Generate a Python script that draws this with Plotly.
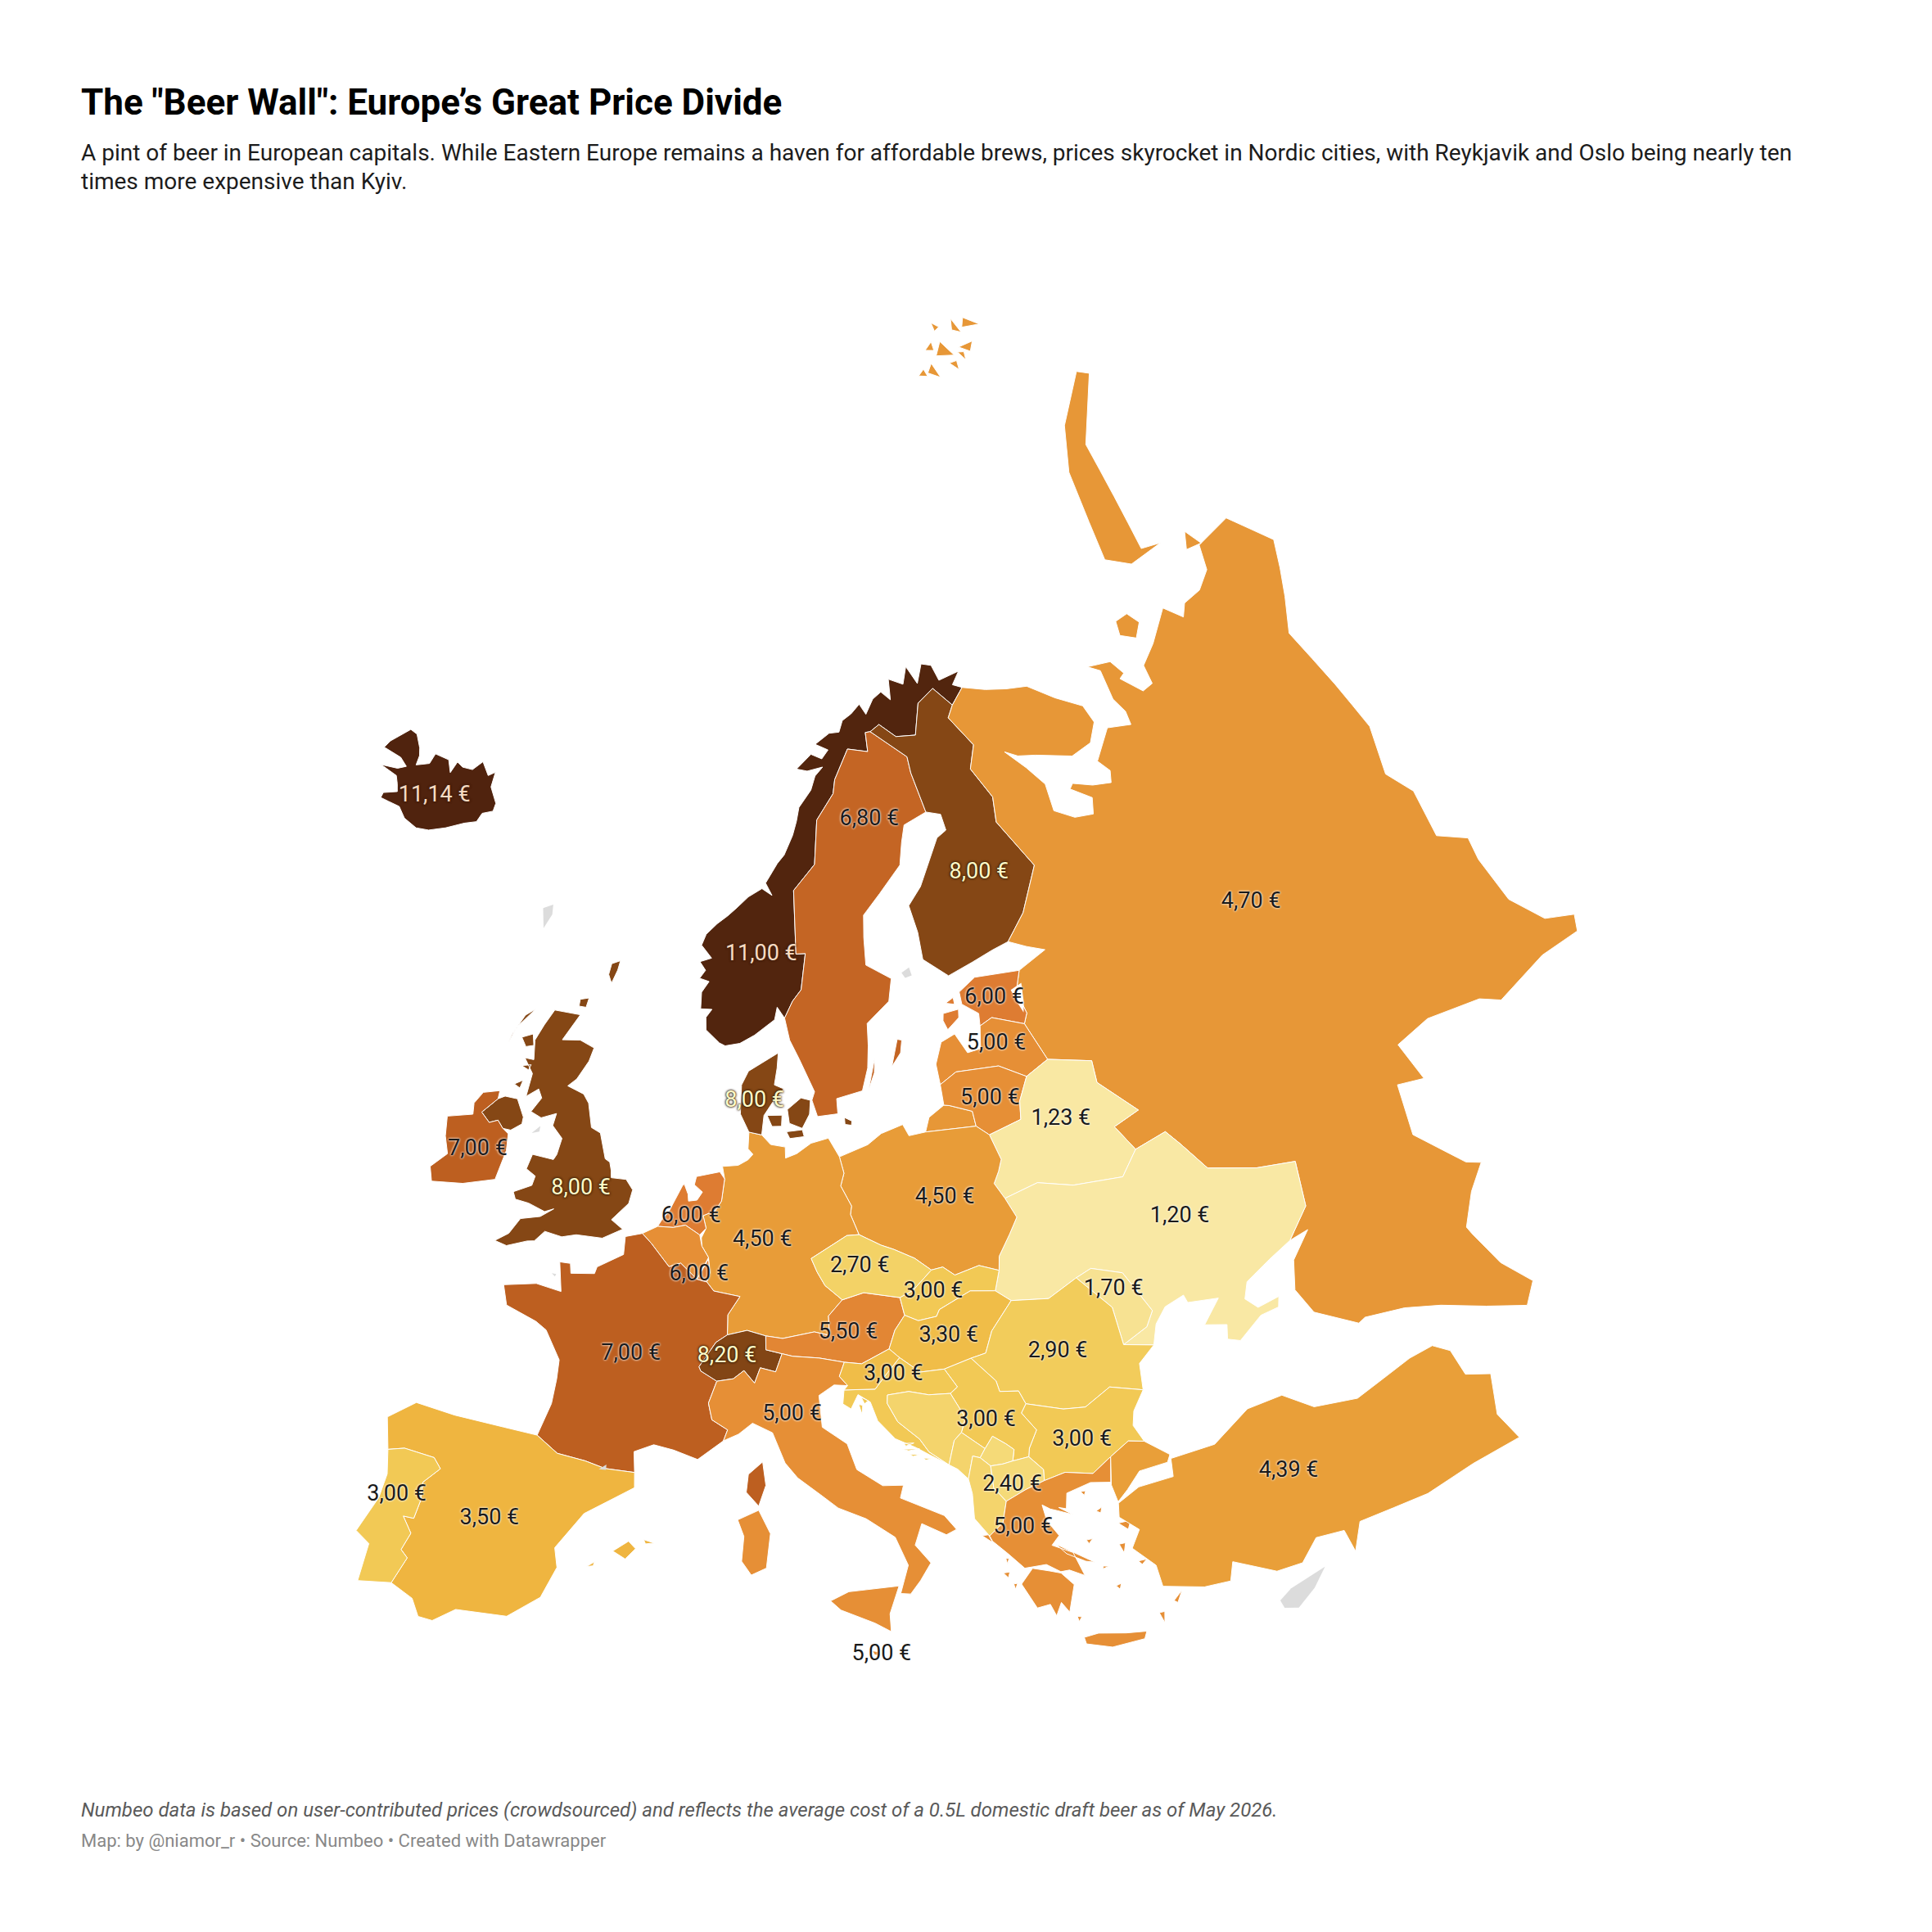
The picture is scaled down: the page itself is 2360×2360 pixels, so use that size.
import plotly.graph_objects as go
from plotly.colors import sample_colorscale

# Prices in EUR, one value per country
countries = ["Iceland", "Norway", "Sweden", "Finland", "Russia", "Estonia", "Latvia", "Lithuania",
             "Belarus", "Ukraine", "Moldova", "Poland", "Germany", "Denmark", "United Kingdom", "Ireland",
             "Netherlands", "Belgium", "Luxembourg", "France", "Switzerland", "Austria", "Italy", "Malta",
             "Czechia", "Slovakia", "Hungary", "Romania", "Bulgaria", "Serbia", "Croatia", "Slovenia",
             "Bosnia", "Montenegro", "Kosovo", "Albania", "North Macedonia", "Greece", "Turkey",
             "Spain", "Portugal"]
prices = [11.14, 11.00, 6.80, 8.00, 4.70, 6.00, 5.00, 5.00,
          1.23, 1.20, 1.70, 4.50, 4.50, 8.00, 8.00, 7.00,
          6.00, 5.00, 6.00, 7.00, 8.20, 5.50, 5.00, 5.00,
          2.70, 3.00, 3.30, 2.90, 3.00, 3.00, 3.00, 3.30,
          2.60, 2.60, 2.40, 2.60, 2.40, 5.00, 4.39,
          3.50, 3.00]

# Price labels and where they sit on the map
label_text = ["11,14 €", "11,00 €", "6,80 €", "8,00 €", "4,70 €", "6,00 €", "5,00 €", "5,00 €",
              "1,23 €", "1,20 €", "1,70 €", "4,50 €", "4,50 €", "8,00 €", "8,00 €", "7,00 €",
              "6,00 €", "6,00 €", "7,00 €", "8,20 €", "5,50 €", "5,00 €", "5,00 €",
              "2,70 €", "3,00 €", "3,30 €", "2,90 €", "3,00 €", "3,00 €", "3,00 €",
              "2,40 €", "5,00 €", "4,39 €", "3,50 €", "3,00 €"]
label_lon = [-18.7, 9.5, 19.1, 27.1, 45.0, 25.8, 25.2, 24.0,
             28.0, 33.0, 28.4, 20.2, 9.45, 9.0, -1.3, -7.8,
             5.3, 5.9, 2.5, 7.55, 14.0, 10.9, 14.6,
             14.9, 18.8, 19.3, 24.8, 20.6, 25.1, 16.2,
             21.4, 21.6, 34.3, -3.5, -8.0]
label_lat = [64.7, 61.3, 65.9, 63.2, 58.5, 58.7, 57.1, 55.2,
             53.9, 49.3, 47.5, 52.0, 51.0, 56.0, 52.4, 53.1,
             51.8, 49.7, 46.7, 46.8, 47.55, 44.7, 35.85,
             49.9, 48.7, 47.05, 45.8, 43.85, 42.5, 45.9,
             41.4, 39.8, 39.4, 40.15, 40.35]
cream_labels = ["8,00 €", "8,20 €"]
peach_labels = ["11,14 €", "11,00 €"]

# Colour ramp of the map
ramp_prices = [1.20, 2.40, 3.00, 3.50, 4.50, 5.00, 6.00, 7.00, 8.00, 11.14]
ramp_colors = ["#f9e8a4", "#f5da78", "#f2c955", "#efb540", "#e89c38", "#e68f36",
               "#de7c32", "#bd5f20", "#854715", "#50230e"]

# Outlines as lon/lat rings
iceland = [[(-22.7, 63.85), (-22.0, 63.85), (-21.0, 63.85), (-20.2, 63.55), (-19.0, 63.4), (-18.0, 63.5), (-16.8, 63.8),
            (-15.5, 64.2), (-14.6, 64.4), (-14.4, 64.75), (-13.6, 64.95), (-13.6, 65.25), (-14.5, 65.75), (-14.6, 66.3),
            (-15.1, 66.1), (-16.0, 66.5), (-16.6, 66.1), (-17.5, 66.05), (-18.1, 66.15), (-18.3, 65.7), (-18.9, 66.1),
            (-20.2, 66.1), (-20.3, 65.7), (-20.9, 65.55), (-21.3, 65.45), (-21.4, 65.8), (-21.7, 66.05), (-22.5, 66.45),
            (-23.2, 66.5), (-24.3, 65.8), (-24.5, 65.5), (-22.8, 65.45), (-22.0, 65.25), (-22.6, 65.05), (-24.0, 64.9),
            (-22.4, 64.8), (-22.0, 64.55), (-21.7, 64.3), (-22.7, 64.05)]]
norway = [[(11.1, 59.0), (10.6, 59.4), (10.4, 58.95), (9.0, 58.4), (8.0, 58.1), (7.0, 58.0), (6.6, 58.1), (5.65, 58.55),
           (5.6, 59.0), (6.0, 59.3), (5.2, 59.3), (5.2, 59.9), (5.7, 60.3), (5.0, 60.4), (5.4, 60.7), (4.95, 61.0),
           (5.8, 61.15), (5.0, 61.6), (5.3, 62.0), (6.1, 62.4), (6.9, 62.7), (7.6, 63.0), (8.5, 63.4), (9.6, 63.7),
           (10.4, 63.45), (9.9, 63.9), (10.9, 64.6), (11.5, 64.9), (12.3, 65.6), (12.7, 66.1), (13.0, 66.6), (14.2, 67.2),
           (14.7, 67.7), (15.5, 68.0), (14.0, 67.9), (13.0, 68.0), (14.5, 68.5), (15.5, 68.3), (16.2, 68.6), (15.0, 68.85),
           (16.5, 69.2), (17.5, 69.2), (18.0, 69.6), (19.0, 69.8), (20.0, 70.1), (20.5, 69.7), (21.5, 70.2), (22.5, 70.4),
           (23.3, 70.05), (23.6, 70.8), (25.0, 70.5), (25.8, 71.1), (26.5, 70.4), (27.5, 71.05), (28.5, 70.9), (28.8, 70.3),
           (31.1, 70.4), (30.0, 70.0), (30.85, 69.8), (29.3, 69.3), (27.9, 70.08), (26.0, 69.7), (24.9, 68.6), (23.0, 68.7),
           (21.6, 69.25), (20.6, 69.05), (20.1, 69.05), (20.0, 68.35), (18.1, 68.55), (16.5, 67.5), (16.2, 67.0), (14.5, 66.1),
           (14.0, 64.5), (12.15, 63.6), (12.1, 61.3), (12.8, 61.3), (12.35, 60.0), (11.7, 59.6)]]
sweden = [[(11.1, 59.0), (11.4, 58.2), (12.0, 57.5), (12.9, 56.3), (12.7, 56.0), (13.0, 55.4), (14.3, 55.45),
           (14.3, 56.0), (16.0, 56.2), (16.5, 57.0), (16.7, 57.8), (16.8, 58.6), (18.5, 59.3), (18.9, 60.1),
           (17.2, 60.7), (17.3, 61.7), (17.5, 62.5), (19.0, 63.2), (21.0, 64.1), (21.5, 64.9), (22.0, 65.5),
           (24.1, 65.8), (23.6, 67.3), (23.6, 67.9), (20.6, 69.05), (20.1, 69.05), (20.0, 68.35), (18.1, 68.55),
           (16.5, 67.5), (16.2, 67.0), (14.5, 66.1), (14.0, 64.5), (12.15, 63.6), (12.1, 61.3), (12.8, 61.3),
           (12.35, 60.0), (11.7, 59.6)],
          [(18.1, 56.95), (18.7, 57.9), (19.0, 57.85), (18.8, 57.4)],
          [(16.4, 56.2), (17.05, 57.35), (16.9, 56.8)]]
finland = [[(20.6, 69.05), (21.6, 69.25), (23.0, 68.7), (24.9, 68.6), (26.0, 69.7), (27.9, 70.08), (29.3, 69.3),
            (28.5, 68.9), (30.0, 67.7), (29.0, 66.9), (30.1, 65.7), (29.7, 64.8), (31.5, 62.9), (29.5, 61.4),
            (27.8, 60.55), (26.5, 60.4), (24.9, 60.15), (23.0, 59.85), (21.4, 60.6), (21.4, 61.6), (21.1, 62.6),
            (22.3, 63.2), (24.5, 64.8), (25.4, 65.0), (25.3, 65.6), (24.1, 65.8), (23.6, 67.3), (23.6, 67.9)]]
russia = [[(30.85, 69.8), (33.0, 69.45), (35.0, 69.2), (37.0, 69.0), (39.0, 68.2), (41.0, 67.5), (41.2, 66.8), (40.0, 66.2),
           (38.0, 66.05), (35.0, 66.6), (33.5, 66.8), (32.5, 67.1), (33.8, 66.3), (34.8, 65.5), (34.6, 64.5), (36.0, 64.0),
           (37.5, 63.85), (38.0, 64.4), (36.6, 65.0), (37.0, 65.15), (38.5, 64.8), (40.0, 64.6), (40.4, 65.0), (39.8, 65.5),
           (42.0, 66.4), (44.0, 66.1), (44.2, 66.6), (43.8, 67.2), (44.2, 68.3), (43.3, 68.65), (45.5, 68.4), (46.0, 67.8),
           (45.4, 67.7), (46.6, 66.9), (47.7, 66.95), (48.0, 67.65), (50.0, 68.1), (53.0, 68.9), (54.0, 68.2), (55.0, 68.55),
           (57.0, 68.55), (59.0, 68.9), (60.3, 69.7), (64.4, 69.65), (65.8, 67.9), (64.1, 67.1), (62.4, 66.3), (60.25, 65.3),
           (60.0, 62.9), (59.7, 61.0), (58.2, 59.4), (58.9, 58.3), (58.1, 56.6), (59.6, 55.8), (59.2, 55.0), (59.05, 53.25),
           (60.0, 51.9), (61.5, 51.3), (61.0, 50.8), (58.5, 51.0),
           (55.0, 50.7), (54.0, 51.2), (50.8, 51.7), (48.5, 51.5), (48.8, 50.0), (47.3, 50.3), (46.7, 48.5),
           (48.5, 46.7), (49.2, 46.4), (48.0, 45.7), (46.9, 44.7), (47.0, 44.4), (47.6, 43.0), (48.6, 41.85),
           (47.8, 41.2), (46.0, 41.9), (44.0, 42.7), (42.3, 43.2), (40.3, 43.5), (39.9, 43.4), (38.0, 44.4),
           (37.5, 45.4), (38.0, 46.4), (39.3, 47.2), (38.2, 47.1), (39.7, 48.0), (40.15, 49.6), (38.0, 49.95),
           (35.4, 50.6), (34.4, 51.75), (33.8, 52.35), (31.8, 52.1), (31.0, 53.1), (32.7, 53.4), (30.8, 54.8),
           (30.9, 55.6), (28.2, 56.1), (27.35, 57.55), (27.7, 57.9), (27.4, 58.75), (28.0, 59.45), (30.2, 59.9),
           (29.0, 60.2), (27.8, 60.55), (29.5, 61.4), (31.5, 62.9), (29.7, 64.8), (30.1, 65.7), (29.0, 66.9),
           (30.0, 67.7), (28.5, 68.9), (29.3, 69.3)],
          [(19.65, 54.45), (20.0, 54.95), (21.05, 55.3), (21.4, 55.25), (22.75, 54.9), (22.8, 54.35)],
          [(51.5, 71.5), (53.0, 72.9), (55.5, 74.7), (60.0, 76.0), (68.0, 76.9), (68.9, 76.5), (60.0, 75.0),
           (57.5, 73.0), (55.5, 71.0), (57.5, 70.7), (53.5, 70.8)],
          [(47.8, 69.0), (48.3, 69.5), (49.7, 69.5), (50.2, 69.0), (49.0, 68.6)],
          [(59.0, 69.9), (60.3, 70.4), (60.6, 69.7)],
          [(47.0, 80.7), (48.8, 80.8), (48.5, 80.5)], [(49.0, 80.6), (51.0, 80.8), (50.5, 80.2)],
          [(53.0, 80.9), (56.0, 81.2), (56.0, 80.5)], [(58.0, 80.6), (61.0, 80.4), (59.0, 80.2)],
          [(62.0, 81.0), (64.0, 81.2), (65.0, 80.6)], [(58.0, 81.9), (58.5, 81.6), (57.0, 81.6)],
          [(54.0, 80.4), (55.5, 80.3), (54.5, 80.0)], [(57.0, 80.5), (58.0, 80.35), (57.0, 80.1)],
          [(60.0, 81.2), (62.0, 81.5), (61.0, 80.9)], [(52.0, 81.3), (54.5, 81.4), (53.5, 81.1)]]
estonia = [[(24.4, 57.85), (24.5, 58.3), (23.5, 58.75), (23.5, 59.2), (24.8, 59.6), (28.0, 59.45), (27.4, 58.75),
            (27.7, 57.9), (27.35, 57.55), (25.3, 58.05)],
           [(22.0, 58.3), (22.1, 58.55), (23.2, 58.6), (23.1, 58.3), (22.2, 57.95)],
           [(22.4, 58.9), (23.0, 59.05), (23.0, 58.8)]]
latvia = [[(21.05, 56.05), (21.0, 56.8), (21.6, 57.55), (22.6, 57.75), (23.2, 57.0), (24.1, 57.05), (24.4, 57.85),
           (25.3, 58.05), (27.35, 57.55), (28.2, 56.1), (26.6, 55.7), (25.0, 56.3), (22.2, 56.4)]]
lithuania = [[(21.05, 55.3), (21.05, 56.05), (22.2, 56.4), (25.0, 56.3), (26.6, 55.7), (25.8, 54.9), (25.6, 54.25),
              (23.5, 53.95), (22.8, 54.35), (22.75, 54.9), (21.4, 55.25)]]
belarus = [[(23.6, 52.6), (23.2, 52.2), (23.65, 51.6), (25.7, 51.9), (27.7, 51.5), (30.6, 51.3), (31.8, 52.1),
            (31.0, 53.1), (32.7, 53.4), (30.8, 54.8), (30.9, 55.6), (28.2, 56.1), (26.6, 55.7), (25.8, 54.9),
            (25.6, 54.25), (23.5, 53.95), (23.9, 53.0)]]
ukraine = [[(22.15, 48.4), (22.55, 49.1), (22.7, 49.6), (23.5, 50.3), (24.1, 50.85), (23.65, 51.6), (25.7, 51.9),
            (27.7, 51.5), (30.6, 51.3), (31.8, 52.1), (33.8, 52.35), (34.4, 51.75), (35.4, 50.6), (38.0, 49.95),
            (40.15, 49.6), (39.7, 48.0), (38.2, 47.1), (36.8, 46.75), (35.3, 46.3), (34.9, 45.75), (35.4, 45.3),
            (36.6, 45.4), (36.4, 45.05), (35.4, 45.0), (34.0, 44.4), (33.4, 44.6), (33.6, 45.1), (32.5, 45.35),
            (33.6, 46.1), (32.0, 46.3), (31.9, 46.6), (30.8, 46.4), (30.1, 45.9), (29.7, 45.2), (28.2, 45.5),
            (29.6, 45.9), (30.1, 46.4), (29.1, 48.0), (27.5, 48.45), (26.6, 48.25), (24.9, 47.75), (22.9, 47.95)]]
moldova = [[(26.6, 48.25), (27.5, 48.45), (29.1, 48.0), (30.1, 46.4), (29.6, 45.9), (28.2, 45.5), (28.1, 46.9)]]
poland = [[(14.2, 53.9), (16.0, 54.25), (16.9, 54.6), (18.3, 54.83), (18.6, 54.4), (19.65, 54.45), (22.8, 54.35),
           (23.5, 53.95), (23.9, 53.0), (23.6, 52.6), (23.2, 52.2), (23.65, 51.6), (24.1, 50.85), (23.5, 50.3),
           (22.7, 49.6), (22.55, 49.1), (21.5, 49.4), (20.1, 49.2), (19.5, 49.55), (18.85, 49.5), (18.0, 50.0),
           (16.9, 50.4), (16.2, 50.6), (15.0, 51.05), (14.6, 51.8), (14.7, 52.1), (14.15, 52.85), (14.4, 53.3)]]
germany = [[(7.2, 53.2), (7.05, 53.65), (8.0, 53.7), (8.6, 53.9), (8.9, 54.1), (8.6, 54.3), (8.65, 54.9), (9.45, 54.8),
            (10.0, 54.45), (10.9, 54.35), (10.9, 53.95), (11.6, 54.1), (12.5, 54.45), (13.6, 54.6), (14.2, 53.9),
            (14.4, 53.3), (14.15, 52.85), (14.7, 52.1), (14.6, 51.8), (15.0, 51.05), (14.3, 51.05), (12.2, 50.3),
            (12.5, 49.8), (12.9, 49.3), (13.8, 48.75), (13.0, 48.2), (13.0, 47.5), (12.2, 47.65), (10.5, 47.45),
            (9.6, 47.55), (8.6, 47.75), (7.55, 47.58), (7.55, 48.3), (8.2, 48.97), (6.75, 49.15), (6.35, 49.47),
            (6.5, 49.8), (6.4, 50.35), (6.0, 50.75), (5.95, 51.05), (6.2, 51.4), (6.0, 51.85), (6.7, 52.05),
            (7.05, 52.4)]]
denmark = [[(8.65, 54.9), (8.1, 55.55), (8.15, 56.6), (8.6, 57.1), (10.6, 57.75), (10.5, 57.2), (10.3, 56.6),
            (10.9, 56.45), (10.2, 56.0), (9.6, 55.5), (9.45, 54.8)],
           [(9.8, 55.5), (10.75, 55.5), (10.7, 55.1), (10.1, 55.1)],
           [(11.1, 55.7), (12.0, 56.1), (12.6, 56.0), (12.5, 55.5), (12.0, 55.0), (11.2, 55.2)],
           [(11.0, 54.9), (12.0, 54.95), (12.1, 54.7), (11.2, 54.65)],
           [(14.7, 55.3), (15.15, 55.15), (15.1, 55.0), (14.7, 55.05)]]
united_kingdom = [[(-5.7, 50.05), (-5.0, 49.95), (-3.9, 50.25), (-3.5, 50.3), (-3.0, 50.7), (-2.0, 50.6), (-1.2, 50.75),
                   (0.3, 50.75), (1.4, 51.15), (0.7, 51.45), (1.6, 52.1), (1.75, 52.6), (1.3, 52.95), (0.4, 52.95),
                   (0.35, 53.2), (0.2, 53.5), (-0.1, 53.6), (-0.6, 54.5), (-1.2, 54.65), (-1.6, 55.5), (-2.0, 55.8),
                   (-3.1, 56.0), (-2.6, 56.3), (-2.0, 57.0), (-1.8, 57.5), (-2.8, 57.7), (-4.0, 57.6), (-3.1, 58.6),
                   (-4.9, 58.6), (-5.4, 58.0), (-5.8, 57.4), (-5.6, 56.7), (-6.2, 56.7), (-5.5, 56.2), (-5.6, 55.35),
                   (-4.9, 55.7), (-4.6, 55.4), (-5.1, 54.85), (-4.4, 54.7), (-3.5, 54.95), (-3.6, 54.5), (-2.9, 54.1),
                   (-3.05, 53.5), (-3.2, 53.3), (-4.5, 53.35), (-4.7, 52.8), (-4.1, 52.6), (-4.2, 52.25), (-5.2, 51.9),
                   (-5.0, 51.65), (-4.2, 51.6), (-3.2, 51.4), (-2.7, 51.55), (-3.4, 51.2), (-4.5, 51.0), (-5.0, 50.4)],
                  [(-7.3, 55.05), (-6.9, 55.2), (-6.1, 55.2), (-5.5, 54.6), (-5.5, 54.35), (-6.1, 54.05), (-6.6, 54.05),
                   (-7.0, 54.3), (-7.5, 54.15), (-8.1, 54.45), (-7.9, 54.6), (-7.5, 54.9)],
                  [(-7.5, 57.1), (-7.2, 57.7), (-6.2, 58.5), (-6.8, 58.2), (-7.4, 57.4)],
                  [(-6.7, 57.4), (-6.0, 57.6), (-5.8, 57.2), (-6.3, 57.1)],
                  [(-6.3, 56.4), (-5.7, 56.5), (-5.8, 56.3)], [(-6.5, 55.7), (-6.0, 55.9), (-6.1, 55.6)],
                  [(-1.3, 59.9), (-1.0, 60.4), (-0.9, 60.75), (-1.5, 60.6), (-1.6, 60.2)],
                  [(-3.3, 58.9), (-2.8, 58.9), (-2.7, 59.25), (-3.3, 59.15)]]
ireland = [[(-6.2, 53.9), (-6.1, 53.3), (-6.4, 52.2), (-8.2, 51.8), (-10.0, 51.6), (-10.3, 52.1), (-9.5, 52.7),
            (-9.9, 53.3), (-10.1, 54.0), (-8.6, 54.3), (-8.7, 54.7), (-8.3, 55.15), (-7.3, 55.35), (-7.3, 55.05),
            (-7.5, 54.9), (-7.9, 54.6), (-8.1, 54.45), (-7.5, 54.15), (-7.0, 54.3), (-6.6, 54.05)]]
netherlands = [[(3.4, 51.37), (3.6, 51.6), (4.0, 51.95), (4.7, 52.9), (4.8, 52.95), (5.05, 52.6), (5.1, 52.35), (5.6, 52.4),
                (5.9, 52.7), (5.4, 52.95), (5.5, 53.25), (6.9, 53.45), (7.2, 53.2), (7.05, 52.4), (6.7, 52.05),
                (6.0, 51.85), (6.2, 51.4), (5.85, 51.15), (5.0, 51.48), (4.3, 51.37)]]
belgium = [[(2.55, 51.07), (3.4, 51.37), (4.3, 51.37), (5.0, 51.48), (5.85, 51.15), (6.0, 50.75), (6.4, 50.35), (5.8, 49.55),
            (4.85, 50.1), (4.2, 49.95), (3.1, 50.75)]]
luxembourg = [[(5.8, 49.55), (6.4, 50.3), (6.5, 49.8), (6.35, 49.47)]]
france = [[(2.55, 51.07), (1.6, 50.9), (1.6, 50.25), (0.2, 49.7), (0.1, 49.45), (-1.2, 49.35), (-1.3, 49.7), (-1.9, 49.7),
           (-1.6, 48.65), (-3.0, 48.8), (-4.75, 48.55), (-4.4, 47.85), (-2.7, 47.45), (-2.1, 47.2), (-1.2, 46.2),
           (-1.2, 45.5), (-1.3, 44.6), (-1.8, 43.4), (-0.7, 42.85), (0.7, 42.7), (1.7, 42.5), (3.15, 42.45),
           (3.05, 43.2), (4.0, 43.5), (5.0, 43.35), (6.2, 43.05), (7.45, 43.75), (7.65, 44.15), (6.85, 44.5),
           (6.65, 45.1), (7.05, 45.9), (6.2, 46.25), (6.1, 46.4), (6.95, 47.3), (7.55, 47.58), (7.55, 48.3),
           (8.2, 48.97), (6.75, 49.15), (6.35, 49.47), (5.8, 49.55), (4.85, 50.1), (4.2, 49.95), (3.1, 50.75)],
          [(9.4, 43.0), (9.55, 42.15), (9.2, 41.4), (8.6, 41.9), (8.7, 42.55)]]
switzerland = [[(6.2, 46.25), (7.05, 45.9), (7.9, 46.0), (8.45, 46.3), (9.0, 45.85), (9.3, 46.4), (10.1, 46.25), (10.45, 46.9),
                (9.6, 47.05), (9.6, 47.55), (8.6, 47.75), (7.55, 47.58), (6.95, 47.3), (6.1, 46.4)]]
austria = [[(9.6, 47.55), (10.5, 47.45), (12.2, 47.65), (13.0, 47.5), (13.0, 48.2), (13.8, 48.75), (15.0, 48.95), (16.95, 48.65),
            (17.1, 48.0), (16.5, 47.5), (16.1, 46.85), (14.6, 46.4), (13.7, 46.5), (12.4, 46.7), (11.0, 46.8), (10.45, 46.9), (9.6, 47.05)]]
italy = [[(7.45, 43.75), (8.2, 44.0), (8.9, 44.4), (9.9, 44.05), (10.5, 42.95), (11.1, 42.4), (12.2, 41.75), (13.0, 41.25),
          (14.3, 40.8), (15.6, 40.05), (16.1, 39.0), (15.65, 38.0), (16.1, 37.95), (16.6, 38.4), (17.15, 39.0), (16.5, 39.7),
          (16.9, 40.45), (18.0, 39.95), (18.5, 40.1), (18.0, 40.65), (16.0, 41.45), (16.2, 41.9), (15.2, 41.95), (14.0, 42.6),
          (13.6, 43.55), (12.4, 44.2), (12.3, 45.35), (13.1, 45.7), (13.8, 45.65), (13.4, 46.0), (13.7, 46.5), (12.4, 46.7),
          (11.0, 46.8), (10.45, 46.9), (10.1, 46.25), (9.3, 46.4), (9.0, 45.85), (8.45, 46.3), (7.9, 46.0), (7.05, 45.9),
          (6.65, 45.1), (6.85, 44.5), (7.65, 44.15)],
         [(12.45, 37.9), (13.3, 38.2), (15.6, 38.28), (15.1, 37.3), (15.1, 36.65), (14.4, 37.0), (12.9, 37.55)],
         [(8.2, 40.9), (9.2, 41.25), (9.75, 40.4), (9.55, 39.15), (8.85, 38.9), (8.4, 39.4), (8.5, 40.3)]]
malta = [[(14.2, 36.0), (14.5, 35.95), (14.55, 35.8), (14.3, 35.85)]]
czechia = [[(12.2, 50.3), (14.3, 51.05), (15.0, 51.05), (16.2, 50.6), (16.9, 50.4), (18.0, 50.0), (18.85, 49.5), (17.7, 48.85),
            (16.95, 48.65), (15.0, 48.95), (13.8, 48.75), (12.9, 49.3), (12.5, 49.8)]]
slovakia = [[(16.95, 48.65), (17.7, 48.85), (18.85, 49.5), (19.5, 49.55), (20.1, 49.2), (21.5, 49.4), (22.55, 49.1), (22.15, 48.4),
             (20.8, 48.55), (19.0, 48.05), (18.8, 47.82), (17.8, 47.75), (17.1, 48.0)]]
hungary = [[(17.1, 48.0), (17.8, 47.75), (18.8, 47.82), (19.0, 48.05), (20.8, 48.55), (22.15, 48.4), (22.9, 47.95), (21.6, 47.0),
            (21.1, 46.25), (20.3, 46.15), (18.85, 45.9), (17.6, 45.9), (16.6, 46.5), (16.1, 46.85), (16.5, 47.5)]]
romania = [[(20.3, 46.15), (21.1, 46.25), (21.6, 47.0), (22.9, 47.95), (24.9, 47.75), (26.6, 48.25), (28.1, 46.9), (28.2, 45.5),
            (29.7, 45.2), (28.75, 44.7), (28.6, 43.75), (27.0, 44.15), (25.6, 43.65), (24.5, 43.75), (22.7, 44.2), (22.45, 44.7),
            (21.5, 44.8), (21.4, 45.2)]]
bulgaria = [[(22.4, 43.9), (22.7, 44.2), (24.5, 43.75), (25.6, 43.65), (27.0, 44.15), (28.6, 43.75), (27.9, 43.1), (27.7, 42.6),
             (28.05, 41.95), (27.3, 42.1), (26.3, 41.7), (25.3, 41.25), (24.0, 41.5), (22.95, 41.35), (23.0, 41.75), (22.4, 42.3),
             (22.5, 42.6), (23.0, 43.2)]]
serbia = [[(18.85, 45.9), (19.4, 45.2), (19.0, 45.0), (19.6, 44.05), (19.3, 43.55), (20.35, 42.85), (20.8, 43.25), (21.4, 42.9),
           (21.75, 42.65), (21.6, 42.25), (22.4, 42.3), (22.5, 42.6), (23.0, 43.2), (22.4, 43.9), (22.7, 44.2), (22.45, 44.7),
           (21.5, 44.8), (21.4, 45.2), (20.3, 46.15)]]
croatia = [[(13.6, 45.5), (13.5, 45.0), (13.9, 44.8), (14.3, 45.3), (14.9, 45.0), (15.2, 44.3), (16.0, 43.6), (17.0, 43.2), (17.6, 42.9),
            (18.5, 42.45), (17.6, 43.0), (17.2, 43.5), (16.2, 44.2), (15.75, 44.9), (15.8, 45.2), (16.9, 45.25), (17.9, 45.05), (19.0, 45.0),
            (19.4, 45.2), (18.85, 45.9), (17.6, 45.9), (16.6, 46.5), (15.7, 45.85), (15.2, 45.45)],
           [(14.45, 45.2), (14.8, 45.05), (14.6, 44.95)], [(14.3, 44.95), (14.5, 44.9), (14.45, 44.55)],
           [(16.4, 43.4), (16.9, 43.38), (16.5, 43.3)], [(16.3, 43.2), (17.15, 43.15), (16.6, 43.12)],
           [(16.65, 42.98), (17.2, 42.95), (16.8, 42.9)], [(17.3, 42.8), (17.75, 42.75), (17.4, 42.72)]]
slovenia = [[(13.8, 45.65), (13.6, 45.5), (15.2, 45.45), (15.7, 45.85), (16.6, 46.5), (16.1, 46.85), (14.6, 46.4), (13.7, 46.5), (13.4, 46.0)]]
bosnia = [[(15.75, 44.9), (15.8, 45.2), (16.9, 45.25), (17.9, 45.05), (19.0, 45.0), (19.6, 44.05), (19.3, 43.55), (18.9, 43.3),
           (18.5, 42.45), (17.6, 43.0), (17.2, 43.5), (16.2, 44.2)]]
montenegro = [[(18.5, 42.45), (18.9, 43.3), (19.3, 43.55), (20.35, 42.85), (20.05, 42.55), (19.7, 42.65), (19.35, 41.85), (18.9, 42.25)]]
kosovo = [[(20.05, 42.55), (20.5, 42.2), (21.1, 42.2), (21.6, 42.25), (21.75, 42.65), (21.4, 42.9), (20.8, 43.25), (20.35, 42.85)]]
albania = [[(19.35, 41.85), (19.7, 42.65), (20.05, 42.55), (20.5, 42.2), (20.5, 41.4), (21.0, 40.85), (20.7, 40.1), (20.0, 39.7),
            (19.4, 40.4), (19.45, 41.3)]]
north_macedonia = [[(20.5, 42.2), (21.1, 42.2), (21.6, 42.25), (22.4, 42.3), (23.0, 41.75), (22.95, 41.35), (22.0, 41.15), (21.0, 40.85), (20.5, 41.4)]]
greece = [[(20.0, 39.7), (20.7, 40.1), (21.0, 40.85), (22.0, 41.15), (22.95, 41.35), (24.0, 41.5), (25.3, 41.25), (26.3, 41.7),
           (26.05, 40.8), (25.1, 40.95), (23.9, 40.75), (23.75, 40.2), (23.4, 40.3), (24.0, 39.95), (23.3, 40.2), (23.0, 40.3), (22.65, 40.5), (22.75, 39.9),
           (23.2, 39.3), (22.8, 39.0), (23.7, 38.6), (24.05, 37.7), (23.4, 38.0), (23.0, 38.0), (22.4, 38.35), (21.4, 38.35),
           (20.75, 38.95), (20.1, 39.5)],
          [(23.0, 37.95), (23.5, 37.45), (23.1, 36.5), (22.8, 36.9), (22.5, 36.45), (22.3, 36.9), (21.7, 36.85), (21.15, 37.8), (21.75, 38.3), (22.5, 38.1)],
          [(23.0, 39.0), (24.6, 38.1), (24.2, 38.2), (23.4, 38.6)],
          [(23.55, 35.5), (24.2, 35.55), (25.4, 35.35), (26.3, 35.25), (26.15, 35.0), (24.7, 34.95), (23.6, 35.25)],
          [(26.0, 39.3), (26.6, 39.3), (26.4, 39.0)], [(27.75, 36.1), (28.2, 36.4), (27.9, 36.0)],
          [(25.1, 39.9), (25.4, 40.0), (25.3, 39.8)], [(24.55, 40.7), (24.8, 40.7), (24.7, 40.55)],
          [(19.65, 39.75), (19.95, 39.75), (20.1, 39.45)], [(20.4, 38.3), (20.7, 38.3), (20.6, 38.1)],
          [(25.85, 38.55), (26.15, 38.55), (26.0, 38.2)], [(26.55, 37.8), (26.95, 37.8), (26.7, 37.65)],
          [(25.35, 37.1), (25.6, 37.15), (25.5, 36.95)], [(24.95, 37.9), (25.2, 37.85), (24.9, 37.8)],
          [(24.4, 38.95), (24.7, 38.95), (24.5, 38.8)], [(27.0, 35.8), (27.25, 35.8), (27.15, 35.4)],
          [(20.6, 38.8), (20.75, 38.8), (20.65, 38.6)], [(20.8, 37.85), (20.98, 37.85), (20.85, 37.65)],
          [(23.4, 36.3), (23.6, 36.25), (23.45, 36.1)]]
turkey = [[(26.05, 40.7), (26.3, 41.7), (27.3, 42.1), (28.05, 41.95), (29.1, 41.25), (28.9, 41.0), (27.5, 40.95), (26.75, 40.4), (26.2, 40.05)],
          [(26.2, 40.0), (27.3, 40.4), (29.0, 40.45), (29.1, 41.1), (31.3, 41.15), (33.3, 42.0), (35.1, 42.05), (36.4, 41.25), (38.5, 40.95),
           (41.55, 41.5), (42.8, 41.55), (43.5, 41.1), (43.7, 40.1), (44.8, 39.7), (44.3, 38.3), (44.8, 37.2), (42.4, 37.1), (40.0, 36.8),
           (36.7, 36.8), (36.1, 35.85), (35.9, 36.7), (34.6, 36.8), (33.7, 36.1), (32.5, 36.1), (30.7, 36.9), (30.4, 36.25), (29.2, 36.3),
           (27.4, 36.7), (27.3, 37.5), (26.4, 38.3), (26.9, 38.9), (26.1, 39.5)]]
spain = [[(-1.8, 43.4), (-3.5, 43.5), (-6.0, 43.6), (-8.0, 43.75), (-9.25, 43.0), (-8.87, 41.87), (-8.1, 42.05), (-6.6, 41.95),
          (-6.2, 41.6), (-6.9, 41.0), (-6.85, 40.3), (-7.0, 39.65), (-7.5, 39.65), (-7.0, 39.1), (-7.3, 38.45), (-6.95, 38.2),
          (-7.45, 37.2), (-6.4, 36.8), (-6.0, 36.2), (-5.35, 36.15), (-4.4, 36.7), (-2.1, 36.75), (-0.7, 37.6), (-0.1, 38.75),
          (-0.3, 39.45), (0.9, 40.8), (3.2, 41.9), (3.15, 42.45), (1.7, 42.5), (0.7, 42.7), (-0.7, 42.85)],
         [(2.4, 39.55), (3.1, 39.95), (3.45, 39.7), (3.0, 39.3)], [(3.8, 40.05), (4.3, 39.95), (3.9, 39.9)],
         [(1.25, 38.9), (1.6, 39.1), (1.55, 38.95)]]
portugal = [[(-8.87, 41.87), (-8.1, 42.05), (-6.6, 41.95), (-6.2, 41.6), (-6.9, 41.0), (-6.85, 40.3), (-7.0, 39.65), (-7.5, 39.65),
             (-7.0, 39.1), (-7.3, 38.45), (-6.95, 38.2), (-7.45, 37.2), (-8.95, 37.0), (-8.8, 38.4), (-9.5, 38.75), (-8.8, 40.1), (-8.65, 41.0)]]
# No data, drawn grey
cyprus = [[(32.3, 35.05), (32.9, 35.35), (34.6, 35.7), (33.9, 35.1), (33.0, 34.6), (32.4, 34.75)]]
faroe = [[(-7.4, 62.1), (-6.7, 62.3), (-6.6, 61.95), (-7.0, 61.4)]]
aland = [[(19.7, 60.25), (20.3, 60.4), (20.4, 60.1), (19.9, 60.05)]]
isle_of_man = [[(-4.8, 54.1), (-4.35, 54.4), (-4.35, 54.2)]]
andorra = [[(1.4, 42.45), (1.75, 42.65), (1.75, 42.45)]]
jersey = [[(-2.25, 49.25), (-2.0, 49.25), (-2.05, 49.15)]]
# Lake cut out of the Estonian border
peipus = [[(27.05, 58.85), (27.9, 59.0), (27.7, 58.3), (27.5, 57.95), (27.3, 58.3)]]

outlines = [iceland, norway, sweden, finland, russia, estonia, latvia, lithuania, belarus, ukraine, moldova,
            poland, germany, denmark, united_kingdom, ireland, netherlands, belgium, luxembourg, france,
            switzerland, austria, italy, malta, czechia, slovakia, hungary, romania, bulgaria, serbia,
            croatia, slovenia, bosnia, montenegro, kosovo, albania, north_macedonia, greece, turkey,
            spain, portugal]

no_data_color = "#dcdcdc"


def clockwise(ring):
    # d3-geo fills the whole globe if a ring runs the wrong way
    area = sum(a[0] * b[1] - b[0] * a[1] for a, b in zip(ring, ring[1:] + ring[:1]))
    return ring[::-1] if area > 0 else ring


def price_color(price):
    span = ramp_prices[-1] - ramp_prices[0]
    scale = [[(p - ramp_prices[0]) / span, c] for p, c in zip(ramp_prices, ramp_colors)]
    return sample_colorscale(scale, [(price - ramp_prices[0]) / span])[0]


def add_country(fig, name, rings, color, line_width=1.0):
    lon, lat = [], []
    for ring in rings:
        points = clockwise(ring)
        lon += [p[0] for p in points] + [points[0][0], None]
        lat += [p[1] for p in points] + [points[0][1], None]
    fig.add_trace(go.Scattergeo(lon=lon, lat=lat, name=name, mode="lines", fill="toself", fillcolor=color,
                                line=dict(color="white", width=line_width), hoverinfo="name"))


fig = go.Figure()
for name, rings, price in zip(countries, outlines, prices):
    add_country(fig, name, rings, price_color(price))
add_country(fig, "Cyprus", cyprus, no_data_color, 0)
add_country(fig, "Faroe Islands", faroe, no_data_color, 0)
add_country(fig, "Aland", aland, no_data_color, 0)
add_country(fig, "Isle of Man", isle_of_man, no_data_color, 0)
add_country(fig, "Andorra", andorra, no_data_color, 0)
add_country(fig, "Jersey", jersey, no_data_color, 0)
add_country(fig, "Peipus", peipus, "white", 0)

for text, lon, lat in zip(label_text, label_lon, label_lat):
    if text in cream_labels:
        color, halo = "#fffbc8", "rgba(50,30,10,0.8)"
    elif text in peach_labels:
        color, halo = "#f7dcc3", "rgba(60,30,15,0.6)"
    else:
        color, halo = "#1a1a1a", "rgba(255,255,255,0.6)"
    fig.add_trace(go.Scattergeo(lon=[lon], lat=[lat], text=[text], mode="text", hoverinfo="skip",
                                textfont=dict(family="Roboto", size=27, color=color,
                                              shadow=f"0 0 3px {halo}, 0 0 3px {halo}, 0 0 2px {halo}")))

fig.update_geos(visible=False, bgcolor="white", projection_type="azimuthal equal area",
                projection_rotation=dict(lon=9, lat=52), lonaxis_range=[-20, 40], lataxis_range=[15, 88],
                center=dict(lon=16.7, lat=60.88), projection_scale=1.034, domain=dict(x=[0, 1], y=[0, 1]))


def add_text(text, y, size, color):
    fig.add_annotation(text=text, x=97 / 2360, y=1 - y / 2360, xref="paper", yref="paper", xanchor="left",
                       yanchor="middle", showarrow=False, align="left",
                       font=dict(family="Roboto", size=size, color=color))


add_text('<b>The "Beer Wall": Europe’s Great Price Divide</b>', 125, 44, "#000000")
add_text("A pint of beer in European capitals. While Eastern Europe remains a haven for affordable brews, prices "
         "skyrocket in Nordic cities, with Reykjavik and Oslo being nearly ten", 187, 28, "#1c1c1c")
add_text("times more expensive than Kyiv.", 221, 28, "#1c1c1c")
add_text("<i>Numbeo data is based on user-contributed prices (crowdsourced) and reflects the average cost of a "
         "0.5L domestic draft beer as of May 2026.</i>", 2211, 24, "#5a5a5a")
add_text("Map: by @niamor_r • Source: Numbeo • Created with Datawrapper", 2248, 22, "#888888")

fig.update_layout(width=2360, height=2360, margin=dict(l=0, r=0, t=0, b=0), paper_bgcolor="white", showlegend=False)
fig.write_html("out.html", config={"displayModeBar": False}, post_script="document.body.style.margin='0';")
